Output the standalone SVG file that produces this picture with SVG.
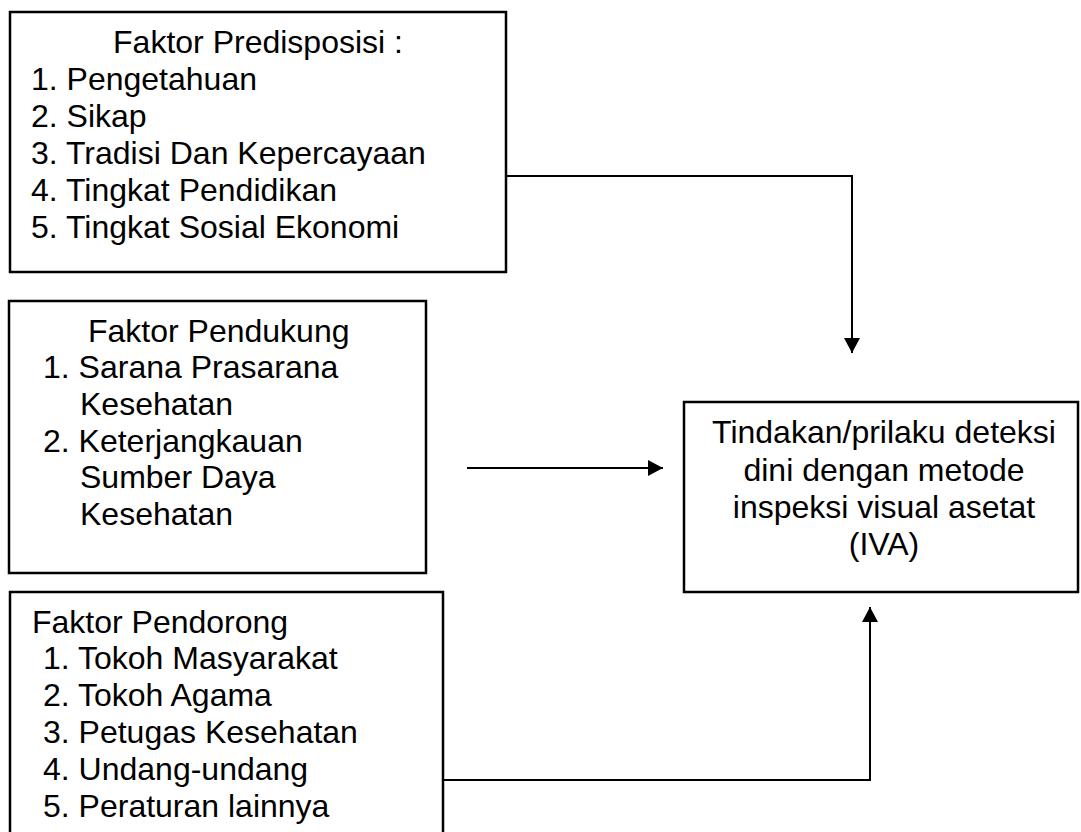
<svg xmlns="http://www.w3.org/2000/svg" width="1081" height="832" viewBox="0 0 1081 832">
<style>
.box{fill:#fff;stroke:#000;stroke-width:2.5}
.t{font-family:'Liberation Sans',Arial,Helvetica,sans-serif;font-size:32px;fill:#000}
.c{text-anchor:middle}
.ln{fill:none;stroke:#000;stroke-width:2}
</style>
<defs>
<marker id="ah" markerUnits="userSpaceOnUse" markerWidth="16" markerHeight="16" viewBox="0 0 16 16" refX="15" refY="8" orient="auto">
<path d="M0,0 L15,8 L0,16 Z" fill="#000"/>
</marker>
</defs>
<rect width="1081" height="832" fill="#fff"/>
<g id="connectors">
<polyline class="ln" points="506,176 852,176 852,353" marker-end="url(#ah)"/>
<line class="ln" x1="467" y1="468" x2="663" y2="468" marker-end="url(#ah)"/>
<polyline class="ln" points="443,780 870,780 870,607" marker-end="url(#ah)"/>
</g>
<g id="predisposisi">
<rect class="box" x="10" y="12" width="496" height="260"/>
<text class="t c" x="258" y="53">Faktor Predisposisi :</text>
<text class="t" x="31" y="90">1. Pengetahuan</text>
<text class="t" x="31" y="127">2. Sikap</text>
<text class="t" x="31" y="164">3. Tradisi Dan Kepercayaan</text>
<text class="t" x="31" y="201">4. Tingkat Pendidikan</text>
<text class="t" x="31" y="238">5. Tingkat Sosial Ekonomi</text>
</g>
<g id="pendukung">
<rect class="box" x="9" y="301" width="417" height="272"/>
<text class="t" x="88" y="342">Faktor Pendukung</text>
<text class="t" x="43" y="378">1. Sarana Prasarana</text>
<text class="t" x="80" y="415">Kesehatan</text>
<text class="t" x="43" y="452">2. Keterjangkauan</text>
<text class="t" x="80" y="488">Sumber Daya</text>
<text class="t" x="80" y="525">Kesehatan</text>
</g>
<g id="pendorong">
<rect class="box" x="10" y="592" width="433" height="250"/>
<text class="t" x="32" y="633">Faktor Pendorong</text>
<text class="t" x="43" y="669">1. Tokoh Masyarakat</text>
<text class="t" x="43" y="706">2. Tokoh Agama</text>
<text class="t" x="43" y="743">3. Petugas Kesehatan</text>
<text class="t" x="43" y="780">4. Undang-undang</text>
<text class="t" x="43" y="817">5. Peraturan lainnya</text>
</g>
<g id="tindakan">
<rect class="box" x="684" y="402" width="394" height="190"/>
<text class="t c" x="884" y="443">Tindakan/prilaku deteksi</text>
<text class="t c" x="884" y="481">dini dengan metode</text>
<text class="t c" x="884" y="518">inspeksi visual asetat</text>
<text class="t c" x="884" y="555">(IVA)</text>
</g>
</svg>
